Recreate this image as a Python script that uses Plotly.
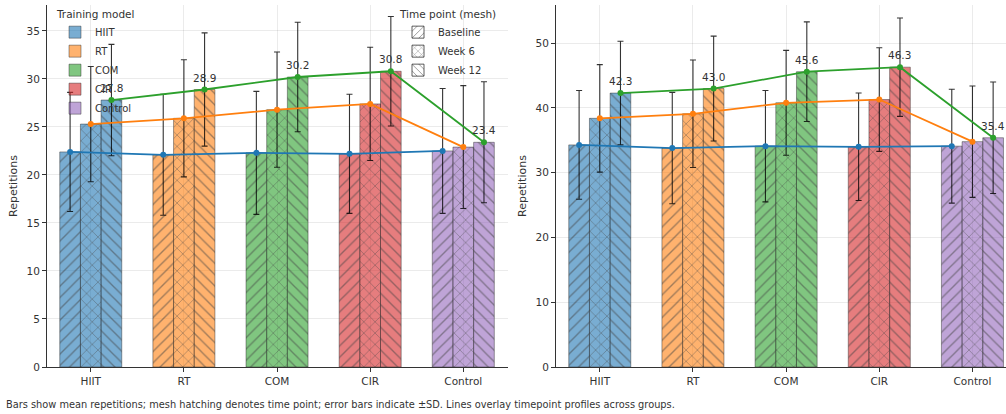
import plotly.graph_objects as go
import numpy as np

categories = ["HIIT", "RT", "COM", "CIR", "Control"]
timepoints = ["Baseline", "Week 6", "Week 12"]
group_colors = ["#1f77b4", "#ff7f0e", "#2ca02c", "#d62728", "#9467bd"]
line_colors = ["#1f77b4", "#ff7f0e", "#2ca02c"]
hatches = ["/", "x", "\\"]

# Left panel
left_baseline = [22.4, 22.1, 22.3, 22.2, 22.5]
left_week6 = [25.3, 25.9, 26.8, 27.4, 22.9]
left_week12 = [27.8, 28.9, 30.2, 30.8, 23.4]
left_sd_baseline = [6.2, 6.3, 6.4, 6.2, 6.5]
left_sd_week6 = [6.0, 6.1, 6.0, 5.9, 6.4]
left_sd_week12 = [5.8, 5.9, 5.7, 5.7, 6.3]

# Right panel
right_baseline = [34.3, 33.8, 34.1, 34.0, 34.1]
right_week6 = [38.4, 39.1, 40.8, 41.3, 34.8]
right_week12 = [42.3, 43.0, 45.6, 46.3, 35.4]
right_sd_baseline = [8.4, 8.6, 8.6, 8.3, 8.8]
right_sd_week6 = [8.3, 8.3, 8.1, 8.0, 8.6]
right_sd_week12 = [8.0, 8.1, 7.7, 7.6, 8.6]

left_ticks = [0, 5, 10, 15, 20, 25, 30, 35]
right_ticks = [0, 10, 20, 30, 40, 50]

caption = ("Bars show mean repetitions; mesh hatching denotes time point; error bars indicate \u00b1SD. "
           "Lines overlay timepoint profiles across groups.")


def rgba(hexc, a):
    h = hexc.lstrip("#")
    r, g, b = int(h[0:2], 16), int(h[2:4], 16), int(h[4:6], 16)
    return f"rgba({r},{g},{b},{a})"


W = 0.222
offsets = [-W, 0.0, W]
xpos = np.arange(len(categories))
fill_colors = [rgba(c, 0.6) for c in group_colors]
FONT = "DejaVu Sans"
TXT = "#333333"

fig = go.Figure()
annotations = []

panels = [
    ("x", "y", [left_baseline, left_week6, left_week12],
     [left_sd_baseline, left_sd_week6, left_sd_week12]),
    ("x2", "y2", [right_baseline, right_week6, right_week12],
     [right_sd_baseline, right_sd_week6, right_sd_week12]),
]

for xa, ya, means, sds in panels:
    for t, (m, s) in enumerate(zip(means, sds)):
        fig.add_trace(go.Bar(
            x=xpos + offsets[t], y=m, width=W, xaxis=xa, yaxis=ya,
            marker=dict(color=fill_colors,
                        line=dict(color="rgba(40,40,40,0.55)", width=0.8),
                        pattern=dict(shape=hatches[t], fgcolor="rgba(25,25,25,0.8)",
                                     bgcolor="rgba(0,0,0,0)",
                                     size=8, solidity=0.17, fillmode="overlay")),
            error_y=dict(type="data", array=s, visible=True, color="rgba(0,0,0,0.8)",
                         thickness=1.1, width=3),
            showlegend=False, hoverinfo="skip"))
    for t, m in enumerate(means):
        fig.add_trace(go.Scatter(
            x=xpos + offsets[t], y=m, xaxis=xa, yaxis=ya, mode="lines+markers",
            line=dict(color=line_colors[t], width=1.8),
            marker=dict(color=line_colors[t], size=6),
            showlegend=False, hoverinfo="skip"))
    for xi, v in zip(xpos + offsets[2], means[2]):
        annotations.append(dict(x=xi, y=v, xref=xa, yref=ya, text=f"{v:.1f}",
                                showarrow=False, yshift=12, yanchor="middle",
                                font=dict(family=FONT, size=10.5, color=TXT)))

# Legend entries
for name, c in zip(categories, fill_colors):
    fig.add_trace(go.Bar(x=[None], y=[None], name=name, xaxis="x", yaxis="y",
                         marker=dict(color=c, line=dict(color="rgba(40,40,40,0.55)", width=0.8)),
                         legend="legend", showlegend=True))
for name, h in zip(timepoints, hatches):
    fig.add_trace(go.Bar(x=[None], y=[None], name=name, xaxis="x", yaxis="y",
                         marker=dict(color="white", line=dict(color="rgba(30,30,30,0.9)", width=0.8),
                                     pattern=dict(shape=h, fgcolor="rgba(30,30,30,0.9)",
                                                  bgcolor="white", fillmode="overlay",
                                                  size=6, solidity=0.2)),
                         legend="legend2", showlegend=True))

fh, fw = 414, 1006
ybot = (fh - 367) / fh
ytop = (fh - 5) / fh

axis_common = dict(showline=True, linecolor="#333333", linewidth=1, ticks="outside",
                   ticklen=4, tickcolor="#333333", showgrid=True,
                   gridcolor="rgba(0,0,0,0.08)", zeroline=False,
                   tickfont=dict(family=FONT, size=10.5, color=TXT))

annotations.append(dict(text=caption, xref="paper", yref="paper", x=4 / fw, y=(fh - 404) / fh,
                        xanchor="left", yanchor="middle", showarrow=False,
                        font=dict(family=FONT, size=9.8, color=TXT)))

fig.update_layout(
    width=fw, height=fh, margin=dict(l=0, r=0, t=0, b=0, autoexpand=False),
    paper_bgcolor="white", plot_bgcolor="white", barmode="overlay",
    font=dict(family=FONT, color=TXT),
    xaxis=dict(domain=[47 / fw, 508 / fw], range=[-0.47, 4.48], tickmode="array",
               tickvals=list(xpos), ticktext=categories, anchor="y", **axis_common),
    yaxis=dict(domain=[ybot, ytop], range=[0, 37.7], tickvals=left_ticks, anchor="x",
               title=dict(text="Repetitions", font=dict(family=FONT, size=11, color=TXT), standoff=6),
               **axis_common),
    xaxis2=dict(domain=[556 / fw, 1.0], range=[-0.47, 4.36], tickmode="array",
                tickvals=list(xpos), ticktext=categories, anchor="y2", **axis_common),
    yaxis2=dict(domain=[ybot, ytop], range=[0, 55.9], tickvals=right_ticks, anchor="x2",
                title=dict(text="Repetitions", font=dict(family=FONT, size=11, color=TXT), standoff=6),
                **axis_common),
    legend=dict(x=55 / fw, y=1 - 4 / fh, xanchor="left", yanchor="top",
                bgcolor="rgba(0,0,0,0)", font=dict(family=FONT, size=10, color=TXT),
                title=dict(text="Training model", font=dict(family=FONT, size=10.5, color=TXT)),
                itemwidth=30, tracegroupgap=0),
    legend2=dict(x=398 / fw, y=1 - 4 / fh, xanchor="left", yanchor="top",
                 bgcolor="rgba(0,0,0,0)", font=dict(family=FONT, size=10, color=TXT),
                 title=dict(text="Time point (mesh)", font=dict(family=FONT, size=10.5, color=TXT)),
                 itemwidth=30, tracegroupgap=0),
    annotations=annotations,
)

fig.write_html("out.html")
